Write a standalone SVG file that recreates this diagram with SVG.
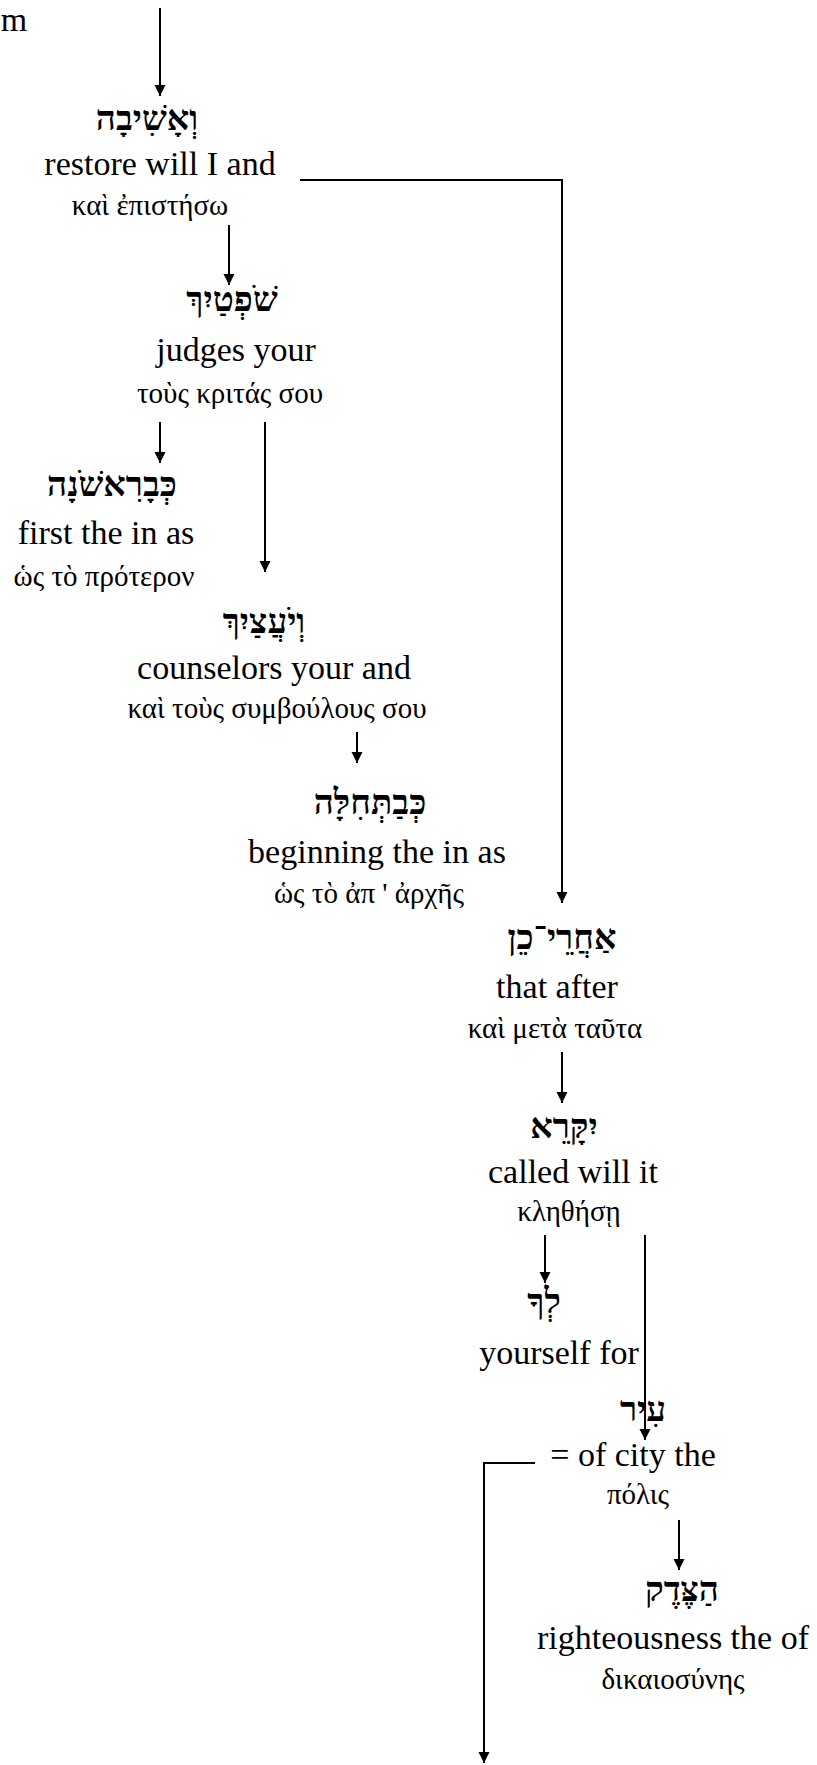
<svg xmlns="http://www.w3.org/2000/svg" width="817" height="1765" viewBox="0 0 817 1765">
<defs>
<marker id="ah" markerUnits="userSpaceOnUse" markerWidth="12" markerHeight="12" refX="11" refY="6" orient="auto">
<path d="M0,0.5 L11,6 L0,11.5 z" fill="#000"/>
</marker>
<style>
text{fill:#000;text-anchor:middle}
.heb{font-family:"Liberation Serif","DejaVu Sans",serif;font-size:35px;font-weight:bold}
.eng{font-family:"Liberation Serif",serif;font-size:34px}
.grk{font-family:"Liberation Serif","DejaVu Serif",serif;font-size:29px}
.conn{fill:none;stroke:#000;stroke-width:2}
.arr{marker-end:url(#ah)}
</style>
</defs>
<rect width="817" height="1765" fill="#fff"/>
<g id="connectors">
<path class="conn arr" d="M160,8 V96"/>
<path class="conn arr" d="M229,225 V285"/>
<path class="conn arr" d="M160,422 V463"/>
<path class="conn arr" d="M265,422 V572"/>
<path class="conn arr" d="M357,732 V763"/>
<path class="conn arr" d="M300,180 H562 V903"/>
<path class="conn arr" d="M562,1052 V1103"/>
<path class="conn arr" d="M545,1235 V1283"/>
<path class="conn arr" d="M645,1235 V1440"/>
<path class="conn arr" d="M535,1463 H484 V1763"/>
<path class="conn arr" d="M679,1520 V1570"/>
</g>
<g id="n0"><text class="eng" x="14" y="31">m</text></g>
<g id="n1">
<text class="heb" x="147" y="130">וְאָשִׁיבָה</text>
<text class="eng" x="160" y="175">restore will I and</text>
<text class="grk" x="150" y="215">καὶ ἐπιστήσω</text>
</g>
<g id="n2">
<text class="heb" x="232" y="311">שֹׁפְטַיִךְ</text>
<text class="eng" x="236" y="361">judges your</text>
<text class="grk" x="230" y="403">τοὺς κριτάς σου</text>
</g>
<g id="n3">
<text class="heb" x="112" y="496">כְּבָרִאשֹׁנָה</text>
<text class="eng" x="106" y="544">first the in as</text>
<text class="grk" x="104" y="586">ὡς τὸ πρότερον</text>
</g>
<g id="n4">
<text class="heb" x="264" y="633">וְיֹעֲצַיִךְ</text>
<text class="eng" x="274" y="679">counselors your and</text>
<text class="grk" x="277" y="718">καὶ τοὺς συμβούλους σου</text>
</g>
<g id="n5">
<text class="heb" x="370" y="814">כְּבַתְּחִלָּה</text>
<text class="eng" x="377" y="863">beginning the in as</text>
<text class="grk" x="369" y="903">ὡς τὸ ἀπ ' ἀρχῆς</text>
</g>
<g id="n6">
<text class="heb" x="562" y="949">אַחֲרֵי־כֵן</text>
<text class="eng" x="557" y="998">that after</text>
<text class="grk" x="555" y="1038">καὶ μετὰ ταῦτα</text>
</g>
<g id="n7">
<text class="heb" x="564" y="1138">יִקָּרֵא</text>
<text class="eng" x="573" y="1183">called will it</text>
<text class="grk" x="569" y="1221">κληθήσῃ</text>
</g>
<g id="n8">
<text class="heb" x="544" y="1313">לְךָ</text>
<text class="eng" x="559" y="1364">yourself for</text>
</g>
<g id="n9">
<text class="heb" x="643" y="1421">עִיר</text>
<text class="eng" x="633" y="1466">= of city the</text>
<text class="grk" x="638" y="1504">πόλις</text>
</g>
<g id="n10">
<text class="heb" x="682" y="1601">הַצֶּדֶק</text>
<text class="eng" x="673" y="1649">righteousness the of</text>
<text class="grk" x="673" y="1689">δικαιοσύνης</text>
</g>
</svg>
